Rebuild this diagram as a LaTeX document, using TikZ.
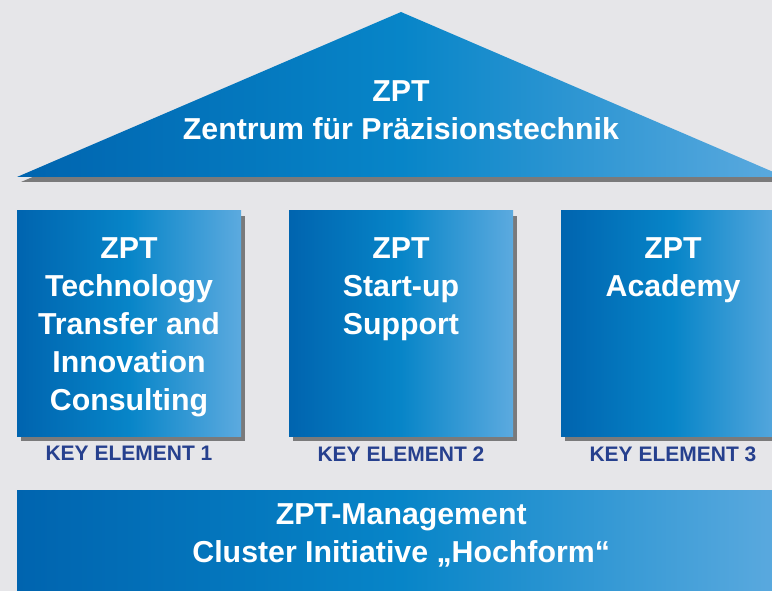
\documentclass[tikz,border=0pt]{standalone}
\usepackage{fontspec}
\setmainfont{Liberation Sans}
\usetikzlibrary{positioning,shadows}

\definecolor{zptdark}{HTML}{0064AF}
\definecolor{zptmid}{HTML}{0785C8}
\definecolor{zptlight}{HTML}{5CAADF}
\definecolor{zptgrey}{HTML}{E6E6E9}
\definecolor{zptkey}{HTML}{26408E}

\tikzset{
  zptshade/.style={left color=zptdark, right color=zptlight, middle color=zptmid},
  zptshadow/.style={drop shadow={shadow xshift=4pt, shadow yshift=-5pt, opacity=0.6, fill=black!80}},
  pillar/.style={rectangle, minimum width=224pt, minimum height=225pt, inner sep=0pt, zptshade, zptshadow},
  whitetext/.style={text=white, font=\fontsize{30.3}{38}\selectfont\bfseries, align=center, inner sep=0pt},
  keytext/.style={text=zptkey, font=\fontsize{21}{24}\selectfont\bfseries, inner sep=0pt}
}

\begin{document}
\begin{tikzpicture}[x=1pt,y=-1pt]

%Canvas and background
	\useasboundingbox (0,0) rectangle (772,591);
	\clip (0,0) rectangle (772,591);
	\fill[zptgrey] (0,0) rectangle (772,591);

%Roof with the title
	\path[zptshade, zptshadow] (17,177) -- (401,12) -- (785,177) -- cycle;
	\node[whitetext, anchor=north] (title) at (401,80) {ZPT\\Zentrum für Präzisionstechnik};

%The foreach command places the three pillars, their texts and the key element labels
	\foreach \n/\txt in {1/{ZPT\\Technology\\Transfer and\\Innovation\\Consulting},2/{ZPT\\Start-up\\Support},3/{ZPT\\Academy}}
		{
		\node[pillar] (box\n) at ({129+272*(\n-1)},323.5) {};
		\node[whitetext, below=27pt of box\n.north] (text\n) {\txt};
		\node[keytext, below=10pt of box\n] (key\n) {KEY ELEMENT \n};
	}

%Foundation bar
	\node[rectangle, minimum width=768pt, minimum height=110pt, inner sep=0pt, anchor=north west, zptshade] (base) at (17,490) {};
	\node[whitetext, below=13pt of base.north] (basetext) {ZPT-Management\\Cluster Initiative „Hochform“};

\end{tikzpicture}
\end{document}
